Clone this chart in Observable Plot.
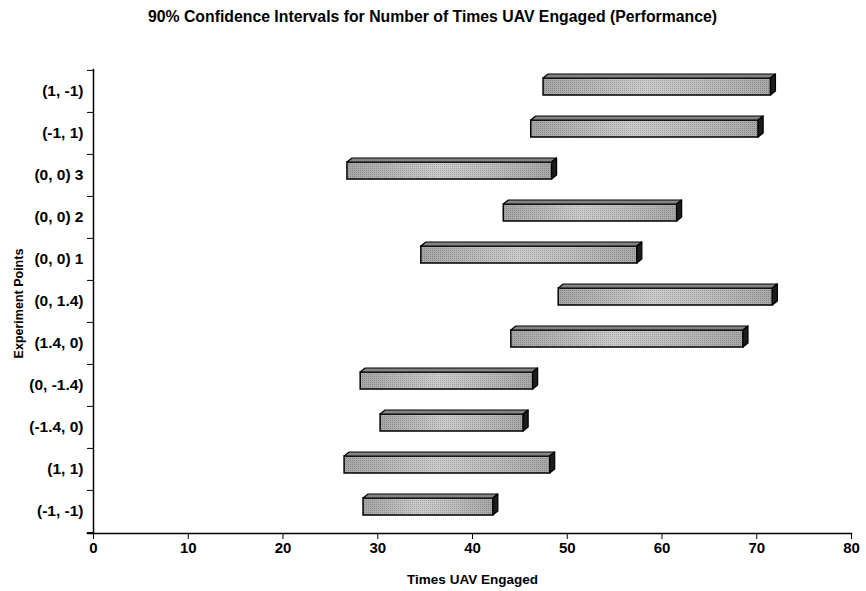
<!DOCTYPE html>
<html>
<head>
<meta charset="utf-8">
<script src="https://cdn.jsdelivr.net/npm/d3@7"></script>
<script src="https://cdn.jsdelivr.net/npm/@observablehq/plot@0.6"></script>
<style>
  body { margin: 0; background: #fff; }
  #chart svg { font-family: "Liberation Sans", Arial, sans-serif; }
</style>
</head>
<body>
<svg width="0" height="0" style="position:absolute">
  <defs>
    <linearGradient id="frontGrad" x1="0" x2="1" y1="0" y2="0">
      <stop offset="0" stop-color="#a6a6a6"/>
      <stop offset="0.45" stop-color="#cdcdcd"/>
      <stop offset="0.7" stop-color="#bfbfbf"/>
      <stop offset="1" stop-color="#a8a8a8"/>
    </linearGradient>
    <pattern id="dots" width="2" height="2" patternUnits="userSpaceOnUse">
      <rect width="2" height="2" fill="none"/>
      <rect width="1" height="1" fill="#000" fill-opacity="0.2"/>
    </pattern>
  </defs>
</svg>
<div id="chart"></div>
<script>
const categories = ["(1, -1)", "(-1, 1)", "(0, 0) 3", "(0, 0) 2", "(0, 0) 1", "(0, 1.4)", "(1.4, 0)", "(0, -1.4)", "(-1.4, 0)", "(1, 1)", "(-1, -1)"];
const lower = [47.5, 46.2, 26.8, 43.3, 34.6, 49.1, 44.1, 28.2, 30.3, 26.5, 28.5];
const upper = [71.5, 70.2, 48.4, 61.6, 57.4, 71.7, 68.6, 46.4, 45.4, 48.2, 42.2];
const xTicks = [0, 10, 20, 30, 40, 50, 60, 70, 80];

const data = categories.map((c, i) => ({cat: c, lo: lower[i], hi: upper[i]}));

const W = 866, H = 591, mT = 69, mB = 58, mL = 93, mR = 15;
const bw = (H - mT - mB) / categories.length;
const insetTop = 8, insetBottom = 17;
const depthX = 5, depthY = 4;

const plot = Plot.plot({
  width: W,
  height: H,
  marginTop: mT,
  marginBottom: mB,
  marginLeft: mL,
  marginRight: mR,
  style: {fontFamily: "Liberation Sans, Arial, sans-serif", color: "#000", overflow: "visible"},
  x: {domain: [0, 80]},
  y: {domain: categories, padding: 0},
  marks: [
    Plot.axisX({ticks: xTicks, tickSize: 6, tickPadding: 3, fontSize: 15, fontWeight: "bold",
      label: null}),
    Plot.axisY({tickSize: 0, tickPadding: 10, fontSize: 15.5, fontWeight: "bold", label: null}),
    Plot.axisY({tickSize: 6, tickFormat: () => "", dy: -bw / 2, label: null}),
    Plot.axisY({ticks: [categories[categories.length - 1]], tickSize: 6, tickFormat: () => "", dy: bw / 2, label: null}),
    Plot.frame({anchor: "left", strokeWidth: 1.5}),
    Plot.frame({anchor: "bottom", strokeWidth: 1.5, insetLeft: -6}),
    Plot.barX(data, {x1: "lo", x2: "hi", y: "cat", insetTop, insetBottom,
      fill: "url(#frontGrad)", stroke: "#000", strokeWidth: 1.5}),
    Plot.barX(data, {x1: "lo", x2: "hi", y: "cat", insetTop, insetBottom,
      fill: "url(#dots)"}),
    Plot.text(["90% Confidence Intervals for Number of Times UAV Engaged (Performance)"], {
      frameAnchor: "top", dy: -59, dx: -40, fontSize: 15.8, fontWeight: "bold", text: d => d}),
    Plot.text(["Times UAV Engaged"], {
      frameAnchor: "bottom", dy: 50, dx: 0, fontSize: 13.5, fontWeight: "bold", text: d => d}),
    Plot.text(["Experiment Points"], {
      frameAnchor: "left", textAnchor: "middle", dx: -75, dy: 2, rotate: -90, fontSize: 12.5, fontWeight: "bold", text: d => d})
  ]
});

// 3D top and side faces, positioned with the plot's own scales
const xs = plot.scale("x"), ys = plot.scale("y");
const svg = d3.select(plot);
const g = svg.append("g").attr("class", "faces");
data.forEach(d => {
  const x1 = xs.apply(d.lo), x2 = xs.apply(d.hi);
  const top = ys.apply(d.cat) + insetTop;
  const bottom = ys.apply(d.cat) + ys.bandwidth - insetBottom;
  g.append("polygon")
    .attr("points", [[x1, top], [x2, top], [x2 + depthX, top - depthY], [x1 + depthX, top - depthY]].join(" "))
    .attr("fill", "#848484").attr("stroke", "#000").attr("stroke-width", 1.2).attr("stroke-linejoin", "round");
  g.append("polygon")
    .attr("points", [[x2, top], [x2 + depthX, top - depthY], [x2 + depthX, bottom - depthY], [x2, bottom]].join(" "))
    .attr("fill", "#1c1c1c").attr("stroke", "#000").attr("stroke-width", 1.2).attr("stroke-linejoin", "round");
});

document.getElementById("chart").appendChild(plot);
</script>
</body>
</html>
